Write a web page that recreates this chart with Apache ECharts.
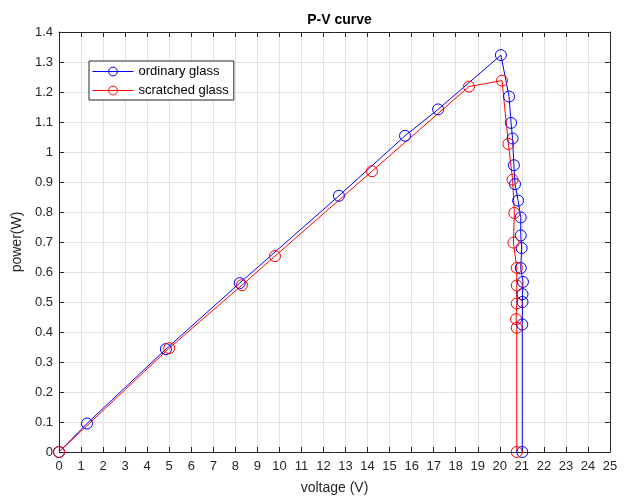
<!DOCTYPE html>
<html>
<head>
<meta charset="utf-8">
<script src="https://cdn.jsdelivr.net/npm/echarts@6/dist/echarts.min.js"></script>
<style>
  html, body { margin: 0; padding: 0; background: #ffffff; overflow: hidden; }
  #chart { width: 627px; height: 500px; }
</style>
</head>
<body>
<div id="chart"></div>
<script>
// P-V measurements for the two panels
const ordinaryVoltage = [0, 1.27, 4.85, 8.2, 12.7, 15.7, 17.2, 20.05, 20.42, 20.51, 20.58, 20.64, 20.69, 20.83, 20.95, 20.95, 20.99, 20.95, 21.05, 21.03, 21.03, 21.02, 21.02];
const ordinaryPower   = [0, 0.095, 0.343, 0.563, 0.854, 1.054, 1.142, 1.323, 1.185, 1.097, 1.045, 0.956, 0.893, 0.838, 0.782, 0.722, 0.68, 0.613, 0.567, 0.526, 0.5, 0.425, 0];
const scratchedVoltage = [0, 5.0, 8.3, 9.8, 14.2, 18.6, 20.1, 20.39, 20.58, 20.66, 20.62, 20.77, 20.77, 20.77, 20.74, 20.77, 20.77];
const scratchedPower   = [0, 0.346, 0.556, 0.653, 0.936, 1.218, 1.238, 1.027, 0.908, 0.797, 0.698, 0.614, 0.555, 0.495, 0.443, 0.414, 0];

const seriesNames = ['ordinary glass', 'scratched glass'];
const seriesColors = ['#0000ff', '#ff0000'];
const xTicks = { min: 0, max: 25, step: 1 };
const yTicks = { min: 0, max: 1.4, step: 0.1 };

const pairs = (xs, ys) => xs.map((x, i) => [x, ys[i]]);

const FONT = 'Liberation Sans, Arial, sans-serif';
const INK = '#262626';
const GRID = '#e3e3e3';

// shared look of the four box sides
const valueAxisBase = () => ({
  type: 'value',
  axisLine: { show: true, onZero: false, lineStyle: { color: INK, width: 1 } },
  axisTick: { show: true, inside: true, length: 5, lineStyle: { color: INK } },
  splitLine: { show: false },
  axisLabel: { show: false }
});

const lineSeries = (name, color, xs, ys) => ({
  name: name,
  type: 'line',
  data: pairs(xs, ys),
  symbol: 'circle',
  symbolSize: 11,
  showAllSymbol: true,
  lineStyle: { color: color, width: 1 },
  itemStyle: { color: 'rgba(0,0,0,0)', borderColor: color, borderWidth: 1 }
});

const chart = echarts.init(document.getElementById('chart'), null, { renderer: 'canvas', width: 627, height: 500 });
chart.setOption({
  animation: false,
  backgroundColor: '#ffffff',
  title: {
    text: 'P-V curve',
    left: 334.5,
    textAlign: 'center',
    top: 8,
    textStyle: { fontFamily: FONT, fontSize: 14, fontWeight: 'bold', color: '#000' }
  },
  grid: { left: 59, right: 17, top: 32, bottom: 40, containLabel: false },
  legend: {
    left: 89,
    top: 61,
    orient: 'vertical',
    data: seriesNames.map((n, i) => ({
      name: n,
      lineStyle: { color: seriesColors[i], width: 1 },
      itemStyle: { color: 'rgba(0,0,0,0)', borderColor: seriesColors[i], borderWidth: 1 }
    })),
    backgroundColor: '#ffffff',
    borderColor: INK,
    borderWidth: 1,
    padding: [4, 5, 3, 3],
    itemGap: 6,
    itemWidth: 41,
    itemHeight: 11,
    textStyle: { fontFamily: FONT, fontSize: 13, color: '#000' }
  },
  xAxis: [
    Object.assign(valueAxisBase(), {
      position: 'bottom',
      min: xTicks.min, max: xTicks.max, interval: xTicks.step,
      name: 'voltage (V)',
      nameLocation: 'middle',
      nameGap: 29,
      nameTextStyle: { fontFamily: FONT, fontSize: 14, color: INK },
      splitLine: { show: true, lineStyle: { color: GRID, width: 1 } },
      axisLabel: { show: true, fontFamily: FONT, fontSize: 13, color: INK, margin: 8 }
    }),
    Object.assign(valueAxisBase(), {
      position: 'top',
      min: xTicks.min, max: xTicks.max, interval: xTicks.step
    })
  ],
  yAxis: [
    Object.assign(valueAxisBase(), {
      position: 'left',
      min: yTicks.min, max: yTicks.max, interval: yTicks.step,
      name: 'power(W)',
      nameLocation: 'middle',
      nameGap: 23,
      nameTextStyle: { fontFamily: FONT, fontSize: 14, color: INK },
      splitLine: { show: true, lineStyle: { color: GRID, width: 1 } },
      axisLabel: {
        show: true, fontFamily: FONT, fontSize: 13, color: INK, margin: 6,
        formatter: v => String(Math.round(v * 10) / 10)
      }
    }),
    Object.assign(valueAxisBase(), {
      position: 'right',
      min: yTicks.min, max: yTicks.max, interval: yTicks.step
    })
  ],
  series: [
    lineSeries(seriesNames[0], seriesColors[0], ordinaryVoltage, ordinaryPower),
    lineSeries(seriesNames[1], seriesColors[1], scratchedVoltage, scratchedPower)
  ]
});
</script>
</body>
</html>
